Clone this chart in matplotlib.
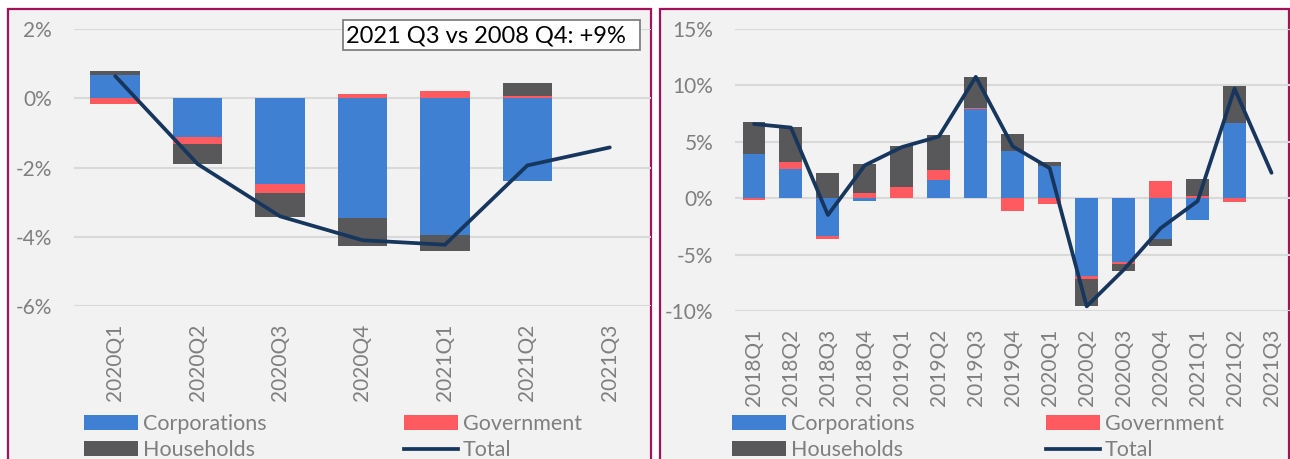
import numpy as np
import matplotlib
matplotlib.use("Agg")
import matplotlib.pyplot as plt
from matplotlib.patches import Rectangle, Patch
from matplotlib.lines import Line2D
from matplotlib.ticker import FuncFormatter

plt.rcParams['font.family'] = ['Lato', 'DejaVu Sans']

# ---------------- data ----------------
left_quarters = ['2020Q1', '2020Q2', '2020Q3', '2020Q4', '2021Q1', '2021Q2', '2021Q3']
left_corp = [0.67, -1.12, -2.47, -3.45, -3.94, -2.38, np.nan]
left_gov = [-0.17, -0.21, -0.27, 0.12, 0.21, 0.07, np.nan]
left_hh = [0.12, -0.58, -0.70, -0.81, -0.48, 0.37, np.nan]
left_total = [0.64, -1.90, -3.41, -4.10, -4.23, -1.94, -1.42]
left_yticks = [-6, -4, -2, 0, 2]

right_quarters = ['2018Q1', '2018Q2', '2018Q3', '2018Q4', '2019Q1', '2019Q2', '2019Q3', '2019Q4',
                  '2020Q1', '2020Q2', '2020Q3', '2020Q4', '2021Q1', '2021Q2', '2021Q3']
right_corp = [3.92, 2.57, -3.36, -0.23, 0.03, 1.64, 7.89, 4.21, 2.84, -6.87, -5.64, -3.65, -1.96, 6.70, np.nan]
right_gov = [-0.15, 0.64, -0.29, 0.44, 0.94, 0.88, 0.09, -1.11, -0.53, -0.32, -0.18, 1.55, 0.23, -0.38, np.nan]
right_hh = [2.81, 3.07, 2.25, 2.60, 3.63, 3.04, 2.78, 1.46, 0.38, -2.34, -0.64, -0.58, 1.49, 3.25, np.nan]
right_total = [6.58, 6.26, -1.49, 2.92, 4.53, 5.47, 10.76, 4.59, 2.66, -9.59, -6.35, -2.66, -0.26, 9.71, 2.25]
right_yticks = [-10, -5, 0, 5, 10, 15]

series_names = ['Corporations', 'Government', 'Households']
annotation = '2021 Q3 vs 2008 Q4: +9%'

# ---------------- style ----------------
C_CORP = '#3F80D2'
C_GOV = '#FF5A5F'
C_HH = '#58585A'
C_TOT = '#17365D'
C_GRID = '#D9D9D9'
C_TXT = '#7F7F7F'
C_BORDER = '#A5105C'
PANEL_BG = '#F2F2F2'

W, H = 1290, 459
fig = plt.figure(figsize=(W / 100, H / 100), dpi=100)
fig.patch.set_facecolor('white')


def fx(px):
    return px / W


def fy(py):
    return 1 - py / H


# panel backgrounds + borders
for x0, x1 in [(8, 651), (660, 1289)]:
    fig.patches.append(Rectangle((fx(x0), fy(H + 10)), fx(x1 - x0), (H + 10 - 9) / H,
                                 transform=fig.transFigure, facecolor=PANEL_BG,
                                 edgecolor=C_BORDER, linewidth=1.6, zorder=-5))


def draw(ax, quarters, corp, gov, hh, total, yticks, bar_w):
    x = np.arange(len(quarters))
    pos = np.zeros(len(x))
    neg = np.zeros(len(x))
    for vals, col in [(corp, C_CORP), (gov, C_GOV), (hh, C_HH)]:
        v = np.array(vals, dtype=float)
        vz = np.nan_to_num(v)
        bottom = np.where(vz >= 0, pos, neg)
        ax.bar(x, v, bar_w, bottom=bottom, color=col, zorder=3, linewidth=0)
        pos = pos + np.where(vz > 0, vz, 0)
        neg = neg + np.where(vz < 0, vz, 0)
    ax.plot(x, total, color=C_TOT, linewidth=2.7, zorder=4, solid_capstyle='round',
            solid_joinstyle='round')
    ax.set_xlim(-0.5, len(x) - 0.5)
    ax.set_ylim(yticks[0], yticks[-1])
    ax.set_yticks(yticks)
    ax.yaxis.set_major_formatter(FuncFormatter(lambda v, p: f'{v:.0f}%'))
    ax.set_xticks(x)
    ax.set_xticklabels(quarters, rotation=90)
    ax.tick_params(axis='y', length=0, pad=16, labelsize=15, labelcolor=C_TXT)
    ax.tick_params(axis='x', length=0, pad=12.5, labelsize=15, labelcolor=C_TXT)
    ax.set_facecolor('none')
    for s in ax.spines.values():
        s.set_visible(False)
    ax.grid(axis='y', color=C_GRID, linewidth=1.5, zorder=1)
    ax.set_axisbelow(True)


axL = fig.add_axes([fx(74), fy(306), fx(651 - 74), (306 - 29) / H])
draw(axL, left_quarters, left_corp, left_gov, left_hh, left_total, left_yticks, 0.6)
axR = fig.add_axes([fx(735.5), fy(311), fx(1290 - 735.5), (311 - 29) / H])
draw(axR, right_quarters, right_corp, right_gov, right_hh, right_total, right_yticks, 0.62)
axL.set_zorder(2)
axR.set_zorder(2)

# annotation box
fig.patches.append(Rectangle((fx(343), fy(50)), fx(640 - 343), (50 - 20) / H,
                             transform=fig.transFigure, facecolor='white',
                             edgecolor='#808080', linewidth=1.3, zorder=5))
fig.text(fx(346), fy(35.5), annotation, fontsize=17, color='black', ha='left', va='center', zorder=6)

# legends
h_corp = Patch(facecolor=C_CORP, edgecolor='none')
h_gov = Patch(facecolor=C_GOV, edgecolor='none')
h_hh = Patch(facecolor=C_HH, edgecolor='none')
h_tot = Line2D([], [], color=C_TOT, linewidth=2.7)

legkw = dict(frameon=False, fontsize=15.5, labelcolor=C_TXT, handlelength=2.5, handleheight=0.7,
             handletextpad=0.22, borderpad=0, borderaxespad=0, labelspacing=0.3,
             loc='upper left', bbox_transform=fig.transFigure)
for c1x, c2x in [(84, 404), (732, 1046)]:
    l1 = fig.legend([h_corp, h_hh], ['Corporations', 'Households'],
                    bbox_to_anchor=(fx(c1x), fy(414)), **legkw)
    l2 = fig.legend([h_gov, h_tot], ['Government', 'Total'],
                    bbox_to_anchor=(fx(c2x), fy(414)), **legkw)

fig.savefig('out.png', dpi=100, facecolor='white')
